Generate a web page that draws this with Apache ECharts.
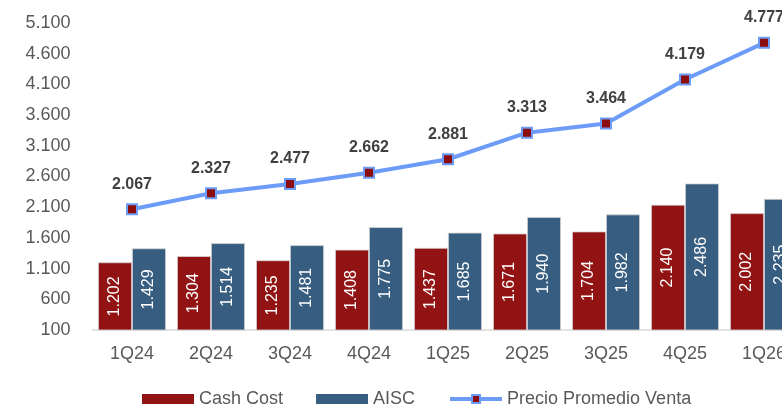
<!DOCTYPE html>
<html>
<head>
<meta charset="utf-8">
<script src="https://cdn.jsdelivr.net/npm/echarts@6/dist/echarts.min.js"></script>
<style>
  html, body { margin: 0; padding: 0; overflow: hidden; background: #ffffff; }
  #chart { width: 840px; height: 407px; }
</style>
</head>
<body>
<div id="chart"></div>
<script>
// Quarters on the x axis
const quarters = ["1Q24", "2Q24", "3Q24", "4Q24", "1Q25", "2Q25", "3Q25", "4Q25", "1Q26"];

// Series values
const cashCost = [1202, 1304, 1235, 1408, 1437, 1671, 1704, 2140, 2002];
const aisc = [1429, 1514, 1481, 1775, 1685, 1940, 1982, 2486, 2235];
const precioVenta = [2067, 2327, 2477, 2662, 2881, 3313, 3464, 4179, 4777];

// Legend names
const seriesNames = ["Cash Cost", "AISC", "Precio Promedio Venta"];

// Thousands with a dot, e.g. 1.202
function fmt(v) {
    return String(v).replace(/\B(?=(\d{3})+(?!\d))/g, ".");
}

const chart = echarts.init(document.getElementById("chart"));

const barLabel = {
    show: true,
    position: "inside",
    rotate: 90,
    color: "#ffffff",
    fontFamily: "Liberation Sans",
    fontSize: 16,
    formatter: p => fmt(p.value)
};

let option = {
    animation: false,
    textStyle: { fontFamily: "Liberation Sans" },

    // GRID
    grid: {
        left: 92.5,
        right: 36.5,
        top: 23,
        bottom: 77,
        containLabel: false
    },

    // LEGEND
    legend: {
        left: 142,
        top: 390,
        padding: 0,
        itemWidth: 52,
        itemHeight: 10,
        itemGap: 33,
        selectedMode: false,
        textStyle: { fontSize: 18, color: "#595959", fontFamily: "Liberation Sans" },
        data: [
            { name: seriesNames[0], icon: "rect", itemStyle: { borderWidth: 0 } },
            { name: seriesNames[1], icon: "rect", itemStyle: { borderWidth: 0 } },
            { name: seriesNames[2], lineStyle: { width: 4, color: "#6c9cf7" } }
        ]
    },

    // XAXIS
    xAxis: {
        type: "category",
        data: quarters,
        axisLine: { lineStyle: { color: "#d9d9d9", width: 1.5 } },
        axisTick: { show: false },
        axisLabel: { color: "#595959", fontSize: 18, margin: 15, fontFamily: "Liberation Sans" }
    },

    // YAXIS
    yAxis: {
        type: "value",
        min: 100,
        max: 5100,
        interval: 500,
        splitLine: { show: false },
        axisLine: { show: false },
        axisTick: { show: false },
        axisLabel: {
            color: "#595959",
            fontSize: 18,
            margin: 22,
            fontFamily: "Liberation Sans",
            formatter: v => fmt(v)
        }
    },

    // SERIES
    series: [
        {
            name: seriesNames[0],
            type: "bar",
            data: cashCost,
            barGap: "0%",
            barCategoryGap: "14%",
            itemStyle: { color: "#921313", borderColor: "#d6d6d6", borderWidth: 0.8 },
            label: barLabel
        },
        {
            name: seriesNames[1],
            type: "bar",
            data: aisc,
            itemStyle: { color: "#375d80", borderColor: "#d6d6d6", borderWidth: 0.8 },
            label: barLabel
        },
        {
            name: seriesNames[2],
            type: "line",
            data: precioVenta,
            symbol: "rect",
            symbolSize: 10,
            lineStyle: { color: "#6c9cf7", width: 4 },
            itemStyle: { color: "#8b0d0d", borderColor: "#6c9cf7", borderWidth: 2 },
            label: {
                show: true,
                position: "top",
                distance: 11,
                color: "#404040",
                fontWeight: "bold",
                fontSize: 16,
                fontFamily: "Liberation Sans",
                formatter: p => fmt(p.value)
            },
            z: 5
        }
    ]
};

chart.setOption(option);
</script>
</body>
</html>
